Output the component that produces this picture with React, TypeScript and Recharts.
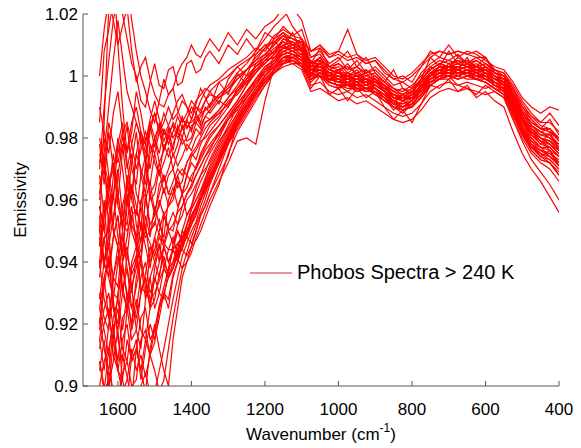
import { LineChart, Line, XAxis, YAxis, Legend } from "recharts";

// wavenumbers, cm^-1: finer steps where the spectra are noisy (1650-1350)
const WAVENUMBERS = [
  1650, 1637.5, 1625, 1612.5, 1600, 1587.5, 1575, 1562.5, 1550, 1537.5, 1525, 1512.5, 1500,
  1487.5, 1475, 1462.5, 1450, 1437.5, 1425, 1412.5, 1400, 1387.5, 1375, 1362.5, 1350,
  1325, 1300, 1275, 1250, 1225, 1200, 1175, 1150, 1125, 1100,
  1075, 1050, 1025, 1000, 975, 950, 925, 900, 875, 850,
  825, 800, 775, 750, 725, 700, 675, 650, 625, 600,
  575, 550, 525, 500, 475, 450, 425, 400,
];

const X_TICKS = [1600, 1400, 1200, 1000, 800, 600, 400];
const Y_TICKS = [0.9, 0.92, 0.94, 0.96, 0.98, 1, 1.02];

// emissivity spectra (25 values 1650-1350, then 38 values 1325-400)
const a1 = [
  0.985, 1.008, 1.015, 1.025, 1.03, 1.02, 1.012, 1.004, 1.0, 0.992, 0.99, 0.998, 1.004, 0.997, 0.996, 1.002, 1.003, 0.997, 0.998, 1.004, 1.005, 1.001, 1.002, 1.006, 1.008,
  1.004, 1.01, 1.007, 1.012, 1.008, 1.014, 1.012, 1.016, 1.013, 1.015,
  1.006, 1.008, 1.004, 1.006, 1.002, 1.005, 1.001, 1.003, 1.0, 0.997,
  0.998, 0.996, 1.001, 1.004, 1.006, 1.005, 1.007, 1.004, 1.006, 1.004,
  1.002, 1.001, 0.996, 0.99, 0.987, 0.985, 0.988, 0.984,
];
const a2 = [
  0.97, 0.99, 1.005, 1.018, 1.025, 1.032, 1.03, 1.018, 1.008, 1.0, 0.995, 0.989, 0.985, 0.992, 0.999, 0.994, 0.996, 1.001, 1.004, 1.006, 1.01, 1.007, 1.006, 1.009, 1.012,
  1.008, 1.014, 1.01, 1.015, 1.012, 1.016, 1.018, 1.022, 1.016, 1.012,
  1.004, 1.009, 1.003, 1.005, 1.008, 1.003, 1.006, 1.001, 0.998, 1.002,
  0.996, 0.995, 0.999, 1.006, 1.003, 1.008, 1.004, 1.005, 1.003, 1.006,
  1.001, 0.999, 0.993, 0.988, 0.985, 0.983, 0.986, 0.981,
];
const a3 = [
  1.0, 1.015, 1.025, 1.018, 1.01, 1.016, 1.022, 1.008, 0.998, 1.003, 1.006, 0.999, 0.994, 0.991, 0.99, 0.994, 0.996, 0.989, 0.985, 0.988, 0.992, 0.99, 0.988, 0.992, 0.995,
  0.991, 0.999, 1.003, 1.0, 1.007, 1.01, 1.007, 1.012, 1.01, 1.009,
  1.0, 1.005, 0.998, 1.002, 0.997, 1.001, 0.999, 0.996, 0.993, 0.989,
  0.992, 0.99, 0.996, 1.001, 0.999, 1.003, 1.0, 1.002, 0.999, 1.001,
  0.997, 0.996, 0.989, 0.983, 0.978, 0.974, 0.976, 0.971,
];
const a4 = [
  0.96, 0.975, 0.99, 1.005, 1.018, 1.006, 0.995, 0.99, 0.985, 0.98, 0.978, 0.986, 0.992, 0.986, 0.981, 0.984, 0.988, 0.992, 0.994, 0.99, 0.986, 0.991, 0.996, 0.993, 0.99,
  0.998, 0.994, 1.001, 0.997, 1.004, 1.006, 1.011, 1.009, 1.014, 1.008,
  1.002, 1.004, 1.001, 0.996, 1.0, 0.997, 1.002, 0.999, 0.995, 0.991,
  0.994, 0.992, 0.998, 1.003, 1.001, 1.004, 1.002, 1.006, 1.001, 1.003,
  1.0, 0.997, 0.991, 0.986, 0.981, 0.978, 0.982, 0.976,
];
const a5 = [
  0.95, 0.985, 1.022, 1.035, 1.01, 0.99, 0.975, 0.982, 0.995, 0.988, 0.979, 0.985, 0.98, 0.975, 0.983, 0.978, 0.982, 0.987, 0.983, 0.986, 0.99, 0.988, 0.992, 0.995, 0.997,
  0.999, 1.002, 1.004, 1.006, 1.009, 1.008, 1.012, 1.014, 1.01, 1.011,
  1.003, 1.006, 1.002, 1.001, 1.004, 1.0, 1.001, 0.998, 0.997, 0.993,
  0.994, 0.995, 0.999, 1.002, 1.004, 1.003, 1.006, 1.004, 1.003, 1.004,
  1.001, 0.999, 0.993, 0.988, 0.984, 0.982, 0.983, 0.979,
];
const m01 = [
  0.978, 0.965, 0.982, 0.97, 0.96, 0.976, 0.984, 0.97, 0.965, 0.98, 0.973, 0.984, 0.977, 0.985, 0.979, 0.983, 0.976, 0.984, 0.98, 0.986, 0.982, 0.988, 0.985, 0.99, 0.988,
  0.992, 0.99, 0.996, 0.999, 1.003, 1.006, 1.009, 1.011, 1.009, 1.01,
  1.004, 1.006, 1.002, 1.003, 1.0, 1.002, 0.999, 1.0, 0.997, 0.995,
  0.994, 0.996, 0.999, 1.002, 1.004, 1.003, 1.004, 1.003, 1.004, 1.002,
  1.0, 0.999, 0.994, 0.988, 0.984, 0.982, 0.981, 0.978,
];
const m02 = [
  0.955, 0.94, 0.948, 0.962, 0.97, 0.955, 0.952, 0.965, 0.958, 0.95, 0.972, 0.96, 0.962, 0.97, 0.962, 0.968, 0.97, 0.964, 0.966, 0.972, 0.975, 0.973, 0.978, 0.981, 0.984,
  0.987, 0.992, 0.994, 0.998, 1.001, 1.004, 1.007, 1.009, 1.01, 1.008,
  1.003, 1.004, 1.001, 0.999, 1.001, 0.998, 0.999, 0.997, 0.995, 0.993,
  0.992, 0.994, 0.996, 1.0, 1.002, 1.001, 1.003, 1.002, 1.001, 1.002,
  0.999, 0.997, 0.992, 0.986, 0.982, 0.979, 0.978, 0.975,
];
const m03 = [
  0.935, 0.948, 0.95, 0.93, 0.928, 0.94, 0.945, 0.932, 0.938, 0.948, 0.952, 0.94, 0.944, 0.95, 0.956, 0.951, 0.95, 0.957, 0.962, 0.955, 0.958, 0.964, 0.968, 0.97, 0.972,
  0.978, 0.984, 0.99, 0.993, 0.998, 1.001, 1.005, 1.007, 1.006, 1.007,
  1.001, 1.003, 0.999, 1.0, 0.998, 0.999, 0.997, 0.998, 0.996, 0.993,
  0.992, 0.993, 0.997, 0.999, 1.001, 1.002, 1.001, 1.002, 1.0, 1.001,
  0.998, 0.997, 0.991, 0.985, 0.981, 0.979, 0.977, 0.974,
];
const m04 = [
  0.915, 0.925, 0.93, 0.918, 0.908, 0.922, 0.925, 0.915, 0.918, 0.93, 0.935, 0.925, 0.928, 0.936, 0.942, 0.935, 0.938, 0.944, 0.95, 0.948, 0.955, 0.958, 0.962, 0.966, 0.97,
  0.976, 0.982, 0.987, 0.992, 0.996, 1.0, 1.003, 1.006, 1.007, 1.005,
  1.002, 1.001, 1.0, 0.998, 0.999, 0.997, 0.998, 0.996, 0.994, 0.992,
  0.991, 0.993, 0.995, 0.999, 1.0, 1.002, 1.001, 1.001, 1.002, 1.0,
  0.998, 0.996, 0.99, 0.984, 0.98, 0.977, 0.976, 0.972,
];
const m05 = [
  0.9, 0.908, 0.912, 0.895, 0.892, 0.904, 0.908, 0.9, 0.902, 0.915, 0.918, 0.91, 0.914, 0.925, 0.93, 0.935, 0.938, 0.944, 0.945, 0.952, 0.955, 0.958, 0.96, 0.964, 0.967,
  0.974, 0.98, 0.986, 0.99, 0.995, 0.999, 1.002, 1.005, 1.006, 1.004,
  0.997, 0.998, 0.995, 0.994, 0.995, 0.993, 0.994, 0.992, 0.99, 0.988,
  0.987, 0.988, 0.991, 0.995, 0.997, 0.998, 0.997, 0.998, 0.997, 0.996,
  0.997, 0.995, 0.989, 0.982, 0.978, 0.975, 0.973, 0.97,
];
const m06 = [
  0.962, 0.975, 0.95, 0.968, 0.98, 0.97, 0.958, 0.972, 0.982, 0.968, 0.962, 0.975, 0.98, 0.972, 0.976, 0.981, 0.974, 0.978, 0.984, 0.979, 0.98, 0.985, 0.983, 0.987, 0.986,
  0.989, 0.993, 0.997, 1.002, 1.004, 1.007, 1.01, 1.013, 1.012, 1.011,
  1.006, 1.007, 1.003, 1.004, 1.002, 1.003, 1.001, 1.002, 0.999, 0.996,
  0.995, 0.997, 1.0, 1.003, 1.005, 1.004, 1.005, 1.004, 1.005, 1.003,
  1.001, 1.0, 0.995, 0.99, 0.986, 0.983, 0.982, 0.979,
];
const m07 = [
  0.945, 0.96, 0.938, 0.948, 0.955, 0.942, 0.962, 0.95, 0.945, 0.958, 0.95, 0.962, 0.955, 0.958, 0.964, 0.958, 0.96, 0.966, 0.962, 0.968, 0.972, 0.97, 0.975, 0.978, 0.981,
  0.984, 0.988, 0.992, 0.997, 1.001, 1.005, 1.006, 1.009, 1.009, 1.008,
  1.003, 1.003, 1.001, 1.0, 1.0, 0.999, 0.999, 0.998, 0.996, 0.994,
  0.993, 0.993, 0.997, 1.001, 1.002, 1.003, 1.002, 1.003, 1.002, 1.001,
  0.999, 0.998, 0.992, 0.986, 0.982, 0.98, 0.978, 0.975,
];
const m08 = [
  0.92, 0.935, 0.942, 0.925, 0.918, 0.93, 0.938, 0.925, 0.932, 0.94, 0.928, 0.935, 0.94, 0.946, 0.938, 0.944, 0.948, 0.942, 0.95, 0.955, 0.958, 0.962, 0.966, 0.969, 0.973,
  0.979, 0.983, 0.988, 0.993, 0.997, 1.002, 1.004, 1.008, 1.007, 1.006,
  1.001, 1.002, 0.999, 0.999, 0.997, 0.998, 0.996, 0.997, 0.995, 0.992,
  0.99, 0.992, 0.996, 0.999, 1.001, 1.0, 1.002, 1.0, 1.001, 0.999,
  0.997, 0.996, 0.991, 0.985, 0.98, 0.977, 0.977, 0.974,
];
const m09 = [
  0.908, 0.898, 0.912, 0.92, 0.905, 0.902, 0.915, 0.908, 0.912, 0.905, 0.915, 0.91, 0.918, 0.925, 0.93, 0.928, 0.936, 0.94, 0.945, 0.948, 0.952, 0.955, 0.96, 0.963, 0.967,
  0.972, 0.979, 0.984, 0.989, 0.994, 0.998, 1.001, 1.004, 1.005, 1.003,
  0.999, 1.0, 0.997, 0.996, 0.997, 0.995, 0.996, 0.994, 0.992, 0.99,
  0.989, 0.99, 0.993, 0.997, 0.999, 1.0, 0.999, 1.0, 0.999, 0.998,
  0.996, 0.994, 0.988, 0.981, 0.977, 0.974, 0.972, 0.968,
];
const m10 = [
  0.968, 0.955, 0.962, 0.975, 0.962, 0.95, 0.965, 0.975, 0.962, 0.958, 0.97, 0.965, 0.975, 0.968, 0.972, 0.977, 0.97, 0.975, 0.98, 0.976, 0.979, 0.983, 0.981, 0.985, 0.986,
  0.988, 0.991, 0.995, 0.999, 1.003, 1.005, 1.008, 1.012, 1.011, 1.009,
  1.005, 1.003, 1.001, 1.002, 0.999, 1.0, 0.998, 0.999, 0.996, 0.994,
  0.993, 0.995, 0.998, 1.001, 1.003, 1.002, 1.003, 1.004, 1.002, 1.003,
  1.0, 0.998, 0.993, 0.988, 0.984, 0.981, 0.981, 0.977,
];
const m11 = [
  0.94, 0.928, 0.922, 0.935, 0.945, 0.932, 0.925, 0.938, 0.942, 0.93, 0.936, 0.945, 0.94, 0.935, 0.945, 0.95, 0.946, 0.952, 0.955, 0.96, 0.962, 0.965, 0.968, 0.972, 0.975,
  0.98, 0.986, 0.989, 0.995, 0.998, 1.002, 1.004, 1.008, 1.007, 1.006,
  1.001, 1.002, 0.999, 0.999, 0.997, 0.998, 0.996, 0.997, 0.995, 0.992,
  0.99, 0.992, 0.996, 0.999, 1.001, 1.0, 1.002, 1.0, 1.001, 0.999,
  0.998, 0.996, 0.991, 0.986, 0.981, 0.978, 0.977, 0.974,
];
const m12 = [
  0.908, 0.9, 0.898, 0.915, 0.905, 0.898, 0.902, 0.912, 0.905, 0.91, 0.903, 0.91, 0.905, 0.898, 0.902, 0.912, 0.922, 0.93, 0.938, 0.943, 0.948, 0.952, 0.956, 0.96, 0.965,
  0.972, 0.979, 0.984, 0.989, 0.994, 0.998, 1.001, 1.004, 1.005, 1.003,
  0.999, 1.0, 0.997, 0.996, 0.997, 0.995, 0.996, 0.994, 0.992, 0.99,
  0.989, 0.99, 0.993, 0.997, 0.999, 1.0, 0.999, 1.0, 0.999, 0.998,
  0.996, 0.994, 0.987, 0.981, 0.976, 0.973, 0.972, 0.968,
];
const m13 = [
  0.972, 0.98, 0.968, 0.96, 0.978, 0.985, 0.972, 0.962, 0.975, 0.982, 0.978, 0.97, 0.98, 0.984, 0.976, 0.98, 0.985, 0.982, 0.987, 0.983, 0.986, 0.99, 0.989, 0.992, 0.994,
  0.993, 0.996, 0.999, 1.002, 1.005, 1.007, 1.01, 1.013, 1.012, 1.011,
  1.008, 1.009, 1.006, 1.007, 1.005, 1.006, 1.004, 1.005, 1.002, 0.999,
  0.998, 1.0, 1.003, 1.006, 1.008, 1.007, 1.008, 1.007, 1.008, 1.006,
  1.001, 1.0, 0.996, 0.991, 0.987, 0.984, 0.983, 0.98,
];
const m14 = [
  0.918, 0.932, 0.942, 0.925, 0.92, 0.938, 0.93, 0.918, 0.925, 0.935, 0.94, 0.93, 0.934, 0.94, 0.945, 0.94, 0.944, 0.95, 0.947, 0.952, 0.957, 0.96, 0.963, 0.967, 0.971,
  0.977, 0.983, 0.988, 0.993, 0.997, 1.001, 1.004, 1.007, 1.008, 1.006,
  1.002, 1.002, 1.0, 0.999, 0.999, 0.998, 0.998, 0.997, 0.995, 0.993,
  0.992, 0.994, 0.997, 1.0, 1.002, 1.001, 1.002, 1.001, 1.003, 1.001,
  0.999, 0.997, 0.991, 0.985, 0.982, 0.979, 0.978, 0.976,
];
const m15 = [
  0.95, 0.94, 0.935, 0.948, 0.955, 0.94, 0.948, 0.958, 0.945, 0.94, 0.955, 0.948, 0.958, 0.952, 0.948, 0.96, 0.964, 0.958, 0.962, 0.968, 0.966, 0.971, 0.974, 0.977, 0.98,
  0.984, 0.988, 0.992, 0.997, 1.001, 1.005, 1.006, 1.009, 1.009, 1.008,
  1.003, 1.003, 1.001, 1.0, 1.0, 0.999, 0.999, 0.998, 0.996, 0.994,
  0.993, 0.993, 0.997, 1.001, 1.002, 1.003, 1.002, 1.003, 1.002, 1.001,
  0.999, 0.998, 0.993, 0.987, 0.983, 0.98, 0.978, 0.975,
];
const m16 = [
  0.895, 0.888, 0.905, 0.898, 0.89, 0.91, 0.903, 0.895, 0.912, 0.905, 0.898, 0.912, 0.92, 0.912, 0.905, 0.9, 0.915, 0.925, 0.935, 0.94, 0.945, 0.95, 0.955, 0.958, 0.962,
  0.97, 0.978, 0.983, 0.988, 0.993, 0.997, 1.001, 1.003, 1.004, 1.002,
  0.995, 0.996, 0.994, 0.992, 0.993, 0.991, 0.992, 0.99, 0.988, 0.986,
  0.985, 0.986, 0.989, 0.993, 0.995, 0.996, 0.995, 0.996, 0.995, 0.994,
  0.995, 0.993, 0.986, 0.98, 0.975, 0.972, 0.97, 0.966,
];
const m17 = [
  0.928, 0.94, 0.945, 0.935, 0.932, 0.948, 0.942, 0.936, 0.94, 0.944, 0.95, 0.946, 0.942, 0.948, 0.945, 0.94, 0.944, 0.94, 0.946, 0.948, 0.946, 0.95, 0.955, 0.958, 0.962,
  0.968, 0.974, 0.985, 0.99, 0.994, 1.0, 1.004, 1.006, 1.005, 1.003,
  0.996, 1.0, 0.994, 0.996, 0.992, 0.996, 0.993, 0.995, 0.99, 0.986,
  0.989, 0.985, 0.991, 0.997, 0.996, 0.999, 0.995, 0.997, 0.993, 0.995,
  0.992, 0.99, 0.982, 0.975, 0.97, 0.966, 0.961, 0.956,
];
const m18 = [
  0.958, 0.95, 0.945, 0.955, 0.962, 0.952, 0.95, 0.955, 0.957, 0.952, 0.948, 0.95, 0.953, 0.949, 0.946, 0.944, 0.944, 0.941, 0.938, 0.94, 0.943, 0.948, 0.952, 0.956, 0.96,
  0.966, 0.972, 0.979, 0.98, 0.978, 0.992, 1.003, 1.004, 1.006, 1.004,
  0.998, 1.001, 0.998, 0.997, 0.995, 0.997, 0.995, 0.996, 0.993, 0.99,
  0.988, 0.991, 0.994, 0.998, 0.999, 1.0, 0.997, 0.996, 0.994, 0.997,
  0.995, 0.993, 0.986, 0.979, 0.973, 0.969, 0.965, 0.96,
];
const m19 = [
  0.98, 0.972, 0.965, 0.97, 0.975, 0.982, 0.985, 0.978, 0.97, 0.976, 0.982, 0.978, 0.975, 0.982, 0.988, 0.984, 0.98, 0.983, 0.986, 0.984, 0.983, 0.986, 0.988, 0.989, 0.99,
  0.994, 0.997, 1.001, 1.004, 1.008, 1.012, 1.016, 1.019, 1.022, 1.018,
  1.008, 1.01, 1.006, 1.008, 1.015, 1.007, 1.004, 1.005, 1.001, 0.999,
  1.0, 0.998, 1.003, 1.008, 1.006, 1.01, 1.006, 1.008, 1.007, 1.005,
  1.003, 1.002, 0.998, 0.993, 0.99, 0.988, 0.99, 0.989,
];
const m20 = [
  0.93, 0.922, 0.918, 0.935, 0.942, 0.93, 0.925, 0.94, 0.945, 0.932, 0.93, 0.942, 0.948, 0.94, 0.955, 0.95, 0.952, 0.956, 0.958, 0.962, 0.965, 0.968, 0.971, 0.974, 0.976,
  0.982, 0.986, 0.99, 0.994, 0.999, 1.003, 1.005, 1.008, 1.009, 1.007,
  1.002, 1.004, 1.0, 1.001, 0.999, 1.0, 0.997, 0.999, 0.996, 0.994,
  0.992, 0.994, 0.996, 1.0, 1.003, 1.002, 1.003, 1.002, 1.003, 1.002,
  1.0, 0.998, 0.992, 0.986, 0.982, 0.98, 0.979, 0.977,
];
const m21 = [
  0.922, 0.912, 0.905, 0.918, 0.925, 0.912, 0.908, 0.92, 0.928, 0.918, 0.915, 0.925, 0.935, 0.93, 0.928, 0.938, 0.944, 0.946, 0.948, 0.952, 0.957, 0.96, 0.963, 0.966, 0.969,
  0.975, 0.981, 0.986, 0.991, 0.995, 0.999, 1.002, 1.006, 1.006, 1.005,
  1.001, 1.0, 0.999, 0.998, 0.997, 0.997, 0.996, 0.996, 0.994, 0.991,
  0.991, 0.992, 0.995, 0.998, 1.0, 1.001, 1.0, 1.002, 1.0, 1.0,
  0.997, 0.996, 0.99, 0.984, 0.979, 0.977, 0.974, 0.972,
];
const m22 = [
  0.99, 0.982, 0.975, 0.988, 0.995, 0.982, 0.97, 0.978, 0.985, 0.98, 0.972, 0.982, 0.988, 0.982, 0.976, 0.982, 0.984, 0.98, 0.983, 0.985, 0.985, 0.987, 0.984, 0.987, 0.989,
  0.993, 0.995, 0.999, 1.002, 1.006, 1.009, 1.013, 1.015, 1.013, 1.012,
  1.008, 1.01, 1.007, 1.008, 1.006, 1.007, 1.005, 1.006, 1.003, 1.0,
  0.999, 1.001, 1.004, 1.007, 1.008, 1.007, 1.008, 1.007, 1.006, 1.006,
  1.002, 1.001, 0.997, 0.992, 0.988, 0.985, 0.985, 0.982,
];
const m23 = [
  0.89, 0.898, 0.902, 0.893, 0.888, 0.895, 0.898, 0.89, 0.894, 0.9, 0.904, 0.898, 0.898, 0.905, 0.912, 0.92, 0.928, 0.935, 0.942, 0.946, 0.95, 0.953, 0.958, 0.962, 0.966,
  0.973, 0.98, 0.985, 0.99, 0.994, 0.998, 1.002, 1.005, 1.005, 1.004,
  0.999, 1.0, 0.998, 0.997, 0.996, 0.996, 0.995, 0.995, 0.993, 0.99,
  0.99, 0.991, 0.994, 0.997, 0.999, 1.0, 0.999, 1.0, 0.999, 0.998,
  0.996, 0.995, 0.988, 0.982, 0.977, 0.975, 0.974, 0.971,
];
const m24 = [
  0.945, 0.955, 0.962, 0.95, 0.945, 0.958, 0.965, 0.952, 0.948, 0.96, 0.962, 0.952, 0.955, 0.965, 0.968, 0.962, 0.962, 0.968, 0.97, 0.968, 0.974, 0.976, 0.979, 0.98, 0.982,
  0.986, 0.99, 0.995, 0.999, 1.002, 1.005, 1.008, 1.01, 1.011, 1.009,
  1.004, 1.005, 1.002, 1.001, 1.0, 1.001, 0.999, 0.999, 0.997, 0.995,
  0.993, 0.995, 0.998, 1.001, 1.003, 1.003, 1.004, 1.003, 1.003, 1.002,
  1.0, 0.999, 0.994, 0.988, 0.984, 0.982, 0.98, 0.978,
];
const m25 = [
  0.925, 0.918, 0.91, 0.922, 0.928, 0.918, 0.93, 0.925, 0.922, 0.93, 0.935, 0.928, 0.93, 0.934, 0.938, 0.935, 0.938, 0.942, 0.944, 0.942, 0.945, 0.947, 0.95, 0.954, 0.958,
  0.965, 0.975, 0.982, 0.987, 0.992, 0.997, 1.001, 1.004, 1.005, 1.003,
  0.999, 1.001, 0.998, 0.997, 0.998, 0.996, 0.996, 0.995, 0.993, 0.991,
  0.989, 0.991, 0.994, 0.998, 1.0, 1.0, 1.0, 1.001, 0.999, 0.999,
  0.997, 0.995, 0.988, 0.982, 0.976, 0.973, 0.972, 0.969,
];
const m26 = [
  0.975, 0.968, 0.985, 0.978, 0.972, 0.98, 0.976, 0.985, 0.99, 0.982, 0.975, 0.984, 0.988, 0.982, 0.985, 0.99, 0.986, 0.988, 0.992, 0.99, 0.988, 0.992, 0.994, 0.996, 0.995,
  0.998, 1.0, 1.003, 1.005, 1.007, 1.01, 1.011, 1.014, 1.012, 1.01,
  1.003, 1.006, 1.002, 1.004, 1.001, 1.003, 1.0, 1.001, 0.998, 0.995,
  0.996, 0.994, 0.999, 1.002, 1.004, 1.003, 1.005, 1.003, 1.005, 1.003,
  1.001, 1.0, 0.995, 0.989, 0.985, 0.983, 0.983, 0.98,
];
const m27 = [
  0.94, 0.955, 0.968, 0.95, 0.945, 0.93, 0.942, 0.955, 0.948, 0.94, 0.962, 0.95, 0.952, 0.96, 0.955, 0.958, 0.962, 0.968, 0.962, 0.964, 0.968, 0.97, 0.973, 0.976, 0.978,
  0.982, 0.987, 0.991, 0.995, 0.999, 1.002, 1.006, 1.007, 1.008, 1.006,
  1.002, 1.002, 1.0, 0.998, 1.0, 0.998, 0.999, 0.997, 0.995, 0.992,
  0.993, 0.993, 0.996, 1.0, 1.001, 1.002, 1.001, 1.002, 1.001, 1.0,
  0.998, 0.997, 0.992, 0.986, 0.981, 0.979, 0.976, 0.974,
];
const m28 = [
  0.912, 0.92, 0.925, 0.91, 0.905, 0.915, 0.92, 0.908, 0.912, 0.922, 0.925, 0.915, 0.918, 0.926, 0.932, 0.938, 0.94, 0.943, 0.946, 0.95, 0.954, 0.958, 0.961, 0.965, 0.968,
  0.974, 0.981, 0.987, 0.991, 0.995, 1.0, 1.003, 1.006, 1.007, 1.005,
  1.0, 1.002, 0.999, 0.998, 0.998, 0.997, 0.997, 0.996, 0.994, 0.992,
  0.99, 0.992, 0.995, 0.999, 1.001, 1.001, 1.001, 1.001, 1.0, 1.0,
  0.998, 0.996, 0.99, 0.983, 0.978, 0.976, 0.975, 0.973,
];
const m29 = [
  0.965, 0.972, 0.958, 0.952, 0.968, 0.978, 0.965, 0.96, 0.975, 0.97, 0.965, 0.978, 0.972, 0.968, 0.978, 0.974, 0.978, 0.982, 0.978, 0.98, 0.984, 0.985, 0.987, 0.989, 0.991,
  0.994, 0.996, 1.0, 1.002, 1.005, 1.009, 1.011, 1.013, 1.01, 1.012,
  1.004, 1.005, 1.003, 1.002, 1.003, 1.001, 1.002, 1.0, 0.998, 0.996,
  0.994, 0.996, 0.999, 1.002, 1.004, 1.005, 1.004, 1.005, 1.003, 1.004,
  1.002, 1.0, 0.994, 0.989, 0.986, 0.983, 0.982, 0.98,
];
const m30 = [
  0.905, 0.915, 0.9, 0.908, 0.918, 0.902, 0.895, 0.91, 0.915, 0.902, 0.912, 0.92, 0.915, 0.922, 0.93, 0.925, 0.935, 0.94, 0.948, 0.95, 0.953, 0.956, 0.96, 0.964, 0.967,
  0.973, 0.979, 0.985, 0.99, 0.994, 0.999, 1.002, 1.005, 1.004, 1.004,
  0.999, 1.001, 0.998, 0.997, 0.997, 0.996, 0.995, 0.995, 0.992, 0.99,
  0.989, 0.99, 0.993, 0.997, 0.999, 0.999, 1.0, 0.999, 0.999, 0.998,
  0.996, 0.994, 0.988, 0.982, 0.977, 0.974, 0.973, 0.97,
];
const m31 = [
  0.938, 0.948, 0.935, 0.928, 0.94, 0.95, 0.938, 0.93, 0.942, 0.952, 0.945, 0.938, 0.948, 0.954, 0.946, 0.952, 0.956, 0.952, 0.958, 0.962, 0.964, 0.968, 0.971, 0.974, 0.977,
  0.981, 0.986, 0.991, 0.995, 0.999, 1.003, 1.005, 1.009, 1.008, 1.007,
  1.002, 1.003, 1.0, 1.0, 0.999, 0.999, 0.998, 0.998, 0.995, 0.993,
  0.992, 0.994, 0.996, 1.0, 1.002, 1.002, 1.002, 1.003, 1.001, 1.002,
  0.999, 0.997, 0.992, 0.987, 0.982, 0.98, 0.979, 0.976,
];
const m32 = [
  0.958, 0.95, 0.965, 0.972, 0.958, 0.952, 0.968, 0.96, 0.955, 0.968, 0.974, 0.962, 0.965, 0.972, 0.966, 0.97, 0.975, 0.971, 0.974, 0.978, 0.976, 0.98, 0.982, 0.985, 0.986,
  0.989, 0.993, 0.996, 1.0, 1.003, 1.006, 1.008, 1.011, 1.01, 1.009,
  1.004, 1.004, 1.002, 1.001, 1.001, 1.0, 1.0, 0.999, 0.997, 0.994,
  0.993, 0.995, 0.998, 1.001, 1.003, 1.003, 1.003, 1.004, 1.003, 1.002,
  1.0, 0.999, 0.993, 0.987, 0.983, 0.981, 0.98, 0.977,
];
const m33 = [
  0.925, 0.935, 0.922, 0.915, 0.93, 0.94, 0.928, 0.92, 0.935, 0.942, 0.932, 0.926, 0.938, 0.945, 0.94, 0.936, 0.946, 0.95, 0.946, 0.95, 0.954, 0.957, 0.96, 0.965, 0.968,
  0.973, 0.98, 0.986, 0.991, 0.996, 1.0, 1.003, 1.006, 1.007, 1.005,
  1.0, 1.001, 0.999, 0.998, 0.998, 0.997, 0.997, 0.996, 0.994, 0.991,
  0.99, 0.992, 0.995, 0.999, 1.001, 1.001, 1.001, 1.001, 1.0, 1.0,
  0.998, 0.996, 0.989, 0.983, 0.979, 0.976, 0.975, 0.972,
];
const m34 = [
  0.948, 0.938, 0.955, 0.962, 0.948, 0.942, 0.958, 0.965, 0.952, 0.946, 0.96, 0.966, 0.956, 0.962, 0.968, 0.962, 0.966, 0.97, 0.968, 0.972, 0.975, 0.977, 0.98, 0.983, 0.985,
  0.988, 0.991, 0.995, 0.998, 1.002, 1.004, 1.007, 1.01, 1.008, 1.009,
  1.003, 1.004, 1.001, 1.001, 1.0, 1.0, 0.999, 0.998, 0.996, 0.993,
  0.993, 0.994, 0.997, 1.0, 1.002, 1.003, 1.002, 1.003, 1.002, 1.002,
  1.0, 0.998, 0.993, 0.987, 0.983, 0.98, 0.979, 0.976,
];
const m35 = [
  0.915, 0.905, 0.92, 0.928, 0.915, 0.908, 0.925, 0.932, 0.918, 0.912, 0.928, 0.935, 0.925, 0.93, 0.938, 0.935, 0.94, 0.946, 0.944, 0.949, 0.952, 0.956, 0.96, 0.963, 0.966,
  0.972, 0.978, 0.984, 0.989, 0.994, 0.998, 1.001, 1.004, 1.006, 1.004,
  1.0, 1.0, 0.998, 0.997, 0.997, 0.996, 0.996, 0.995, 0.993, 0.991,
  0.99, 0.991, 0.994, 0.998, 1.0, 1.0, 1.0, 1.001, 1.0, 0.999,
  0.997, 0.995, 0.989, 0.983, 0.978, 0.976, 0.974, 0.971,
];

const SPECTRA = [
  a1, a2, a3, a4, a5,
  m01, m02, m03, m04, m05, m06, m07, m08, m09, m10, m11, m12, m13, m14, m15, m16, m17, m18,
  m19, m20, m21, m22, m23, m24, m25, m26, m27, m28, m29, m30, m31, m32, m33, m34, m35,
];

const data = WAVENUMBERS.map((w, i) => {
  const row: Record<string, number> = { w };
  SPECTRA.forEach((s, k) => {
    row["s" + k] = s[i];
  });
  return row;
});

const FONT = "'Liberation Sans', Arial, Helvetica, sans-serif";
const AXIS = "#555";
const RED = "#ff0000";

const fmtY = (v: number) => String(Number(v.toFixed(2)));

function XLabel(props: any) {
  const vb = props.viewBox || { x: 83, y: 386, width: 476, height: 30 };
  return (
    <text
      x={vb.x + vb.width / 2}
      y={vb.y + 54}
      textAnchor="middle"
      fontSize={17}
      fontFamily={FONT}
      fill="#000"
    >
      Wavenumber (cm
      <tspan dy={-8} fontSize={12}>-1</tspan>
      <tspan dy={8}>)</tspan>
    </text>
  );
}

function YLabel(props: any) {
  const vb = props.viewBox || { x: 23, y: 14, width: 60, height: 372 };
  const cx = 26;
  const cy = vb.y + vb.height / 2;
  return (
    <text
      x={cx}
      y={cy}
      transform={`rotate(-90, ${cx}, ${cy})`}
      textAnchor="middle"
      fontSize={17}
      fontFamily={FONT}
      fill="#000"
    >
      Emissivity
    </text>
  );
}

function LegendBox() {
  return (
    <div style={{ display: "flex", alignItems: "center", fontFamily: FONT, whiteSpace: "nowrap" }}>
      <svg width={42} height={4}>
        <line x1={0} y1={2} x2={42} y2={2} stroke="#c8323c" strokeWidth={1} />
      </svg>
      <span style={{ fontSize: 20, marginLeft: 5, color: "#000" }}>Phobos Spectra &gt; 240 K</span>
    </div>
  );
}

export default function App() {
  return (
    <div style={{ width: 581, height: 448, background: "#fff" }}>
      <style>{"body{margin:0;background:#fff}"}</style>
      <LineChart
        width={581}
        height={448}
        data={data}
        margin={{ top: 14, right: 22, bottom: 32, left: 23 }}
      >
        <XAxis
          dataKey="w"
          type="number"
          domain={[400, 1695]}
          reversed
          allowDataOverflow
          ticks={X_TICKS}
          interval={0}
          height={30}
          tickSize={-5}
          tickMargin={22}
          axisLine={{ stroke: AXIS }}
          tickLine={{ stroke: AXIS }}
          tick={{ fill: "#000", fontSize: 17, fontFamily: FONT }}
          label={<XLabel />}
        />
        <XAxis
          xAxisId="top"
          orientation="top"
          type="number"
          domain={[400, 1695]}
          reversed
          allowDataOverflow
          ticks={X_TICKS}
          interval={0}
          height={0}
          tickSize={-5}
          tickFormatter={() => ""}
          axisLine={{ stroke: AXIS }}
          tickLine={{ stroke: AXIS }}
        />
        <YAxis
          type="number"
          domain={[0.9, 1.02]}
          allowDataOverflow
          ticks={Y_TICKS}
          interval={0}
          width={60}
          tickSize={-5}
          tickMargin={10}
          tickFormatter={fmtY}
          axisLine={{ stroke: AXIS }}
          tickLine={{ stroke: AXIS }}
          tick={{ fill: "#000", fontSize: 17, fontFamily: FONT }}
          label={<YLabel />}
        />
        <YAxis
          yAxisId="right"
          orientation="right"
          type="number"
          domain={[0.9, 1.02]}
          allowDataOverflow
          ticks={Y_TICKS}
          interval={0}
          width={0}
          tickSize={-5}
          tickFormatter={() => ""}
          axisLine={{ stroke: AXIS }}
          tickLine={{ stroke: AXIS }}
        />
        <Legend
          layout="vertical"
          align="center"
          verticalAlign="middle"
          wrapperStyle={{ left: 250, top: 261, width: 300 }}
          content={() => <LegendBox />}
        />
        {SPECTRA.map((_, k) => (
          <Line
            key={k}
            dataKey={"s" + k}
            type="linear"
            stroke={RED}
            strokeWidth={1.2}
            dot={false}
            activeDot={false}
            isAnimationActive={false}
          />
        ))}
      </LineChart>
    </div>
  );
}
